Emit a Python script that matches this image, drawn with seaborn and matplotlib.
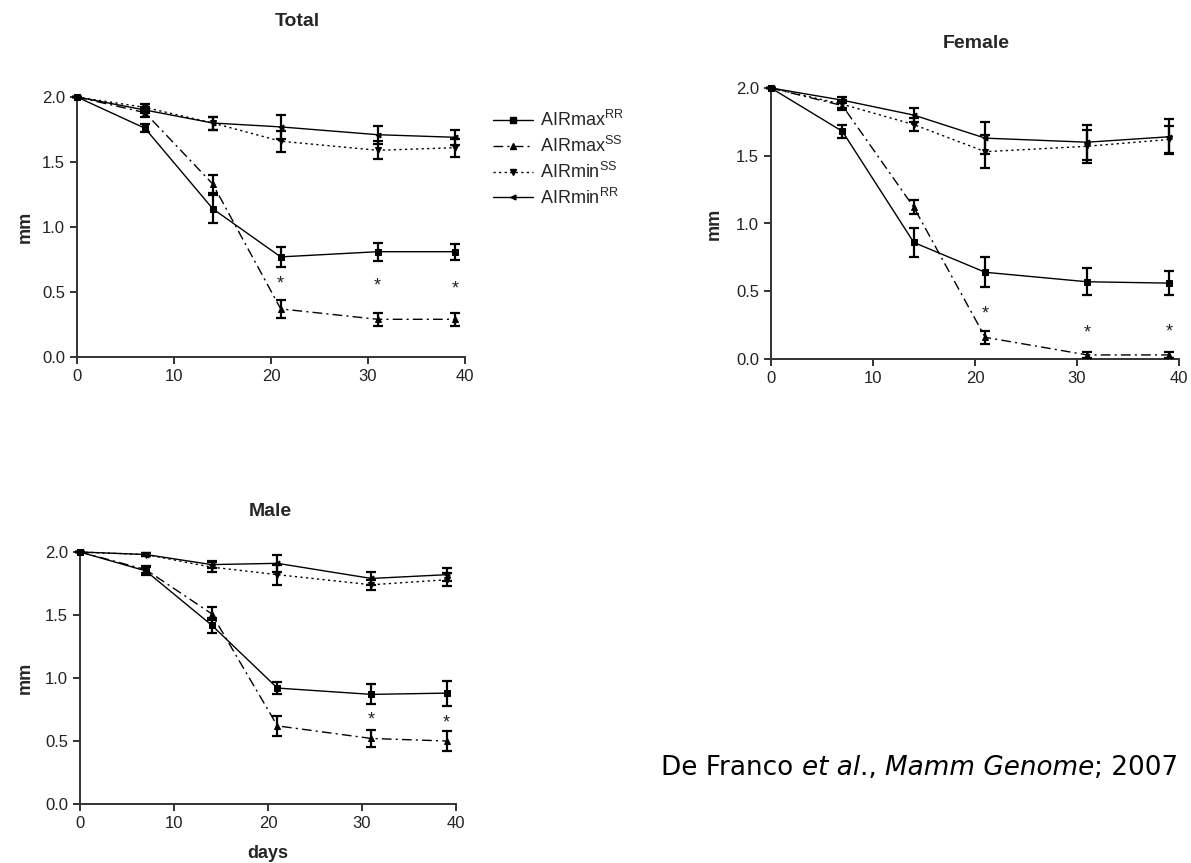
import numpy as np
import pandas as pd
import matplotlib
matplotlib.use("Agg")
import matplotlib.pyplot as plt
from matplotlib.lines import Line2D
import seaborn as sns

# ---- data -------------------------------------------------------------
days = [0, 7, 14, 21, 31, 39]
series_names = ["AIRmax RR", "AIRmax SS", "AIRmin SS", "AIRmin RR"]

total_max_rr = [2.00, 1.76, 1.14, 0.77, 0.81, 0.81]
total_max_rr_err = [0.00, 0.03, 0.11, 0.08, 0.07, 0.06]
total_max_ss = [2.00, 1.88, 1.33, 0.37, 0.29, 0.29]
total_max_ss_err = [0.00, 0.03, 0.07, 0.07, 0.05, 0.05]
total_min_ss = [2.00, 1.92, 1.80, 1.66, 1.59, 1.61]
total_min_ss_err = [0.00, 0.03, 0.05, 0.08, 0.07, 0.07]
total_min_rr = [2.00, 1.90, 1.80, 1.77, 1.71, 1.69]
total_min_rr_err = [0.00, 0.02, 0.05, 0.09, 0.07, 0.06]
total_stars_x = [21, 31, 39]
total_stars_y = [0.56, 0.55, 0.52]

female_max_rr = [2.00, 1.68, 0.86, 0.64, 0.57, 0.56]
female_max_rr_err = [0.00, 0.05, 0.11, 0.11, 0.10, 0.09]
female_max_ss = [2.00, 1.87, 1.12, 0.16, 0.03, 0.03]
female_max_ss_err = [0.00, 0.03, 0.05, 0.05, 0.02, 0.02]
female_min_ss = [2.00, 1.88, 1.73, 1.53, 1.57, 1.62]
female_min_ss_err = [0.00, 0.03, 0.05, 0.12, 0.12, 0.10]
female_min_rr = [2.00, 1.91, 1.80, 1.63, 1.60, 1.64]
female_min_rr_err = [0.00, 0.02, 0.05, 0.12, 0.13, 0.13]
female_stars_x = [21, 31, 39]
female_stars_y = [0.33, 0.19, 0.20]

male_max_rr = [2.00, 1.85, 1.42, 0.92, 0.87, 0.88]
male_max_rr_err = [0.00, 0.03, 0.06, 0.05, 0.08, 0.10]
male_max_ss = [2.00, 1.86, 1.51, 0.62, 0.52, 0.50]
male_max_ss_err = [0.00, 0.03, 0.05, 0.08, 0.07, 0.08]
male_min_ss = [2.00, 1.98, 1.88, 1.82, 1.74, 1.78]
male_min_ss_err = [0.00, 0.01, 0.04, 0.08, 0.04, 0.05]
male_min_rr = [2.00, 1.98, 1.90, 1.91, 1.79, 1.82]
male_min_rr_err = [0.00, 0.01, 0.03, 0.07, 0.05, 0.05]
male_stars_x = [31, 39]
male_stars_y = [0.67, 0.64]

x_ticks = [0, 10, 20, 30, 40]
y_ticks = [0.0, 0.5, 1.0, 1.5, 2.0]
legend_labels = [r"AIRmax$^{\mathrm{RR}}$", r"AIRmax$^{\mathrm{SS}}$",
                 r"AIRmin$^{\mathrm{SS}}$", r"AIRmin$^{\mathrm{RR}}$"]
citation_parts = [("De Franco ", "normal"), ("et al", "italic"), ("., ", "normal"),
                  ("Mamm Genome", "italic"), ("; 2007", "normal")]

# ---- style ------------------------------------------------------------
sns.set_style("ticks")
plt.rcParams["font.family"] = ["Liberation Sans", "DejaVu Sans"]
plt.rcParams["mathtext.fontset"] = "custom"
plt.rcParams["mathtext.rm"] = "Liberation Sans"

marker_map = {"AIRmax RR": "s", "AIRmax SS": "^", "AIRmin SS": "v", "AIRmin RR": "<"}
dash_map = {"AIRmax RR": "", "AIRmax SS": (7, 3, 1.5, 3),
            "AIRmin SS": (1.6, 2.4), "AIRmin RR": ""}
ms_map = {"AIRmax RR": 4.5, "AIRmax SS": 4.5, "AIRmin SS": 4.5, "AIRmin RR": 3.5}

W, H = 1191, 863
fig = plt.figure(figsize=(W / 100, H / 100), dpi=100)


def px_axes(left, top, right, bottom):
    return fig.add_axes([left / W, 1 - bottom / H, (right - left) / W, (bottom - top) / H])


def panel(ax, groups, stars_x, stars_y, ylabel_x, ylabel="mm", xlabel=None):
    frames = []
    for name, (vals, errs) in zip(series_names, groups):
        frames.append(pd.DataFrame({"day": days, "mm": vals, "err": errs, "series": name}))
    df = pd.concat(frames, ignore_index=True)
    for name in series_names:
        sub = df[df["series"] == name]
        sns.lineplot(data=sub, x="day", y="mm", style="series",
                     markers={name: marker_map[name]}, dashes={name: dash_map[name]},
                     color="black", linewidth=1.0, markersize=ms_map[name],
                     markeredgecolor="black", legend=False, errorbar=None,
                     ax=ax, clip_on=False, zorder=3)
        ax.errorbar(sub["day"], sub["mm"], yerr=sub["err"], fmt="none",
                    ecolor="black", elinewidth=1.6, capsize=3.5, capthick=1.6,
                    clip_on=False, zorder=4)
    for sx, sy in zip(stars_x, stars_y):
        ax.text(sx, sy, "*", ha="center", va="center", fontsize=13, color="#222222")
    ax.set_xlim(0, 40)
    ax.set_ylim(0, 2.0)
    ax.set_xticks(x_ticks)
    ax.set_yticks(y_ticks)
    ax.set_yticklabels([f"{v:.1f}" for v in y_ticks])
    ax.tick_params(labelsize=12, colors="#222222", length=5, width=1.3, direction="out")
    sns.despine(ax=ax)
    for sp in ("left", "bottom"):
        ax.spines[sp].set_linewidth(1.4)
        ax.spines[sp].set_color("#333333")
    ax.set_xlabel(xlabel if xlabel else "", fontsize=13, fontweight="bold", labelpad=10)
    ax.set_ylabel(ylabel, fontsize=13, fontweight="bold")
    ax.yaxis.set_label_coords(ylabel_x, 0.5)


ax_total = px_axes(77, 97, 465, 357)
panel(ax_total,
      [(total_max_rr, total_max_rr_err), (total_max_ss, total_max_ss_err),
       (total_min_ss, total_min_ss_err), (total_min_rr, total_min_rr_err)],
      total_stars_x, total_stars_y, ylabel_x=-0.111)

ax_female = px_axes(771, 88, 1179, 359)
panel(ax_female,
      [(female_max_rr, female_max_rr_err), (female_max_ss, female_max_ss_err),
       (female_min_ss, female_min_ss_err), (female_min_rr, female_min_rr_err)],
      female_stars_x, female_stars_y, ylabel_x=-0.1175)

ax_male = px_axes(80, 552, 456, 804)
panel(ax_male,
      [(male_max_rr, male_max_rr_err), (male_max_ss, male_max_ss_err),
       (male_min_ss, male_min_ss_err), (male_min_rr, male_min_rr_err)],
      male_stars_x, male_stars_y, ylabel_x=-0.122, xlabel="days")

# panel titles
fig.text(297 / W, 1 - 22 / H, "Total", ha="center", va="center", fontsize=14, fontweight="bold")
fig.text(976 / W, 1 - 43 / H, "Female", ha="center", va="center", fontsize=14, fontweight="bold")
fig.text(270 / W, 1 - 512 / H, "Male", ha="center", va="center", fontsize=14, fontweight="bold")

# legend
handles = [Line2D([], [], color="black", lw=1.0, marker=marker_map[n], markersize=ms_map[n],
                  linestyle=(0, dash_map[n]) if dash_map[n] else "-")
           for n in series_names]
fig.legend(handles, legend_labels, loc="upper left",
           bbox_to_anchor=(484 / W, 1 - 101 / H), frameon=False, fontsize=13,
           handlelength=2.2, handletextpad=0.4, labelspacing=0.32, borderpad=0)

# citation line, pieces laid out one after another
renderer = fig.canvas.get_renderer()
x_px = 661
for txt, style in citation_parts:
    t = fig.text(x_px / W, 1 - 775 / H, txt, ha="left", va="baseline", fontsize=18.9,
                 family="DejaVu Sans", style=style, color="black")
    bb = t.get_window_extent(renderer=renderer)
    x_px = bb.x1

fig.savefig("out.png", dpi=100)
